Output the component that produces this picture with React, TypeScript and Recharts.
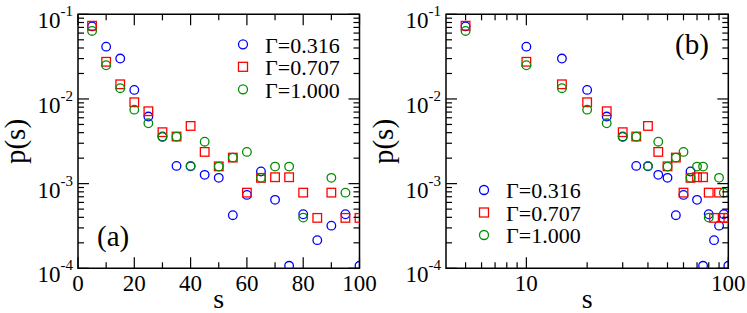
import React from "react";
import { ScatterChart, Scatter, XAxis, YAxis, ReferenceArea, Legend } from "recharts";

// ---- data ----
const sValues = [5, 10, 15, 20, 25, 30, 35, 40, 45, 50, 55, 60, 65, 70, 75, 80, 85, 90, 95, 100];
const gamma316: (number | null)[] = [0.072, 0.0415, 0.030, 0.0128, 0.0062, 0.0036, 0.00162, 0.0016, 0.00127, 0.00117, 0.000424, 0.000736, 0.00139, 0.000643, 0.000107, 0.000435, 0.000215, 0.000319, 0.000435, 0.000107];
const gamma707: (number | null)[] = [0.0733, 0.0275, 0.0149, 0.00914, 0.00716, 0.00405, 0.0036, 0.0048, 0.00237, 0.0016, 0.00203, 0.000783, 0.00117, 0.00119, 0.00119, 0.000783, 0.000394, 0.000783, 0.000394, 0.000394];
const gamma1000: (number | null)[] = [0.0636, 0.025, 0.0134, 0.00748, 0.00516, 0.00356, 0.00358, 0.00162, 0.00313, 0.00159, 0.00203, 0.00237, 0.00117, 0.00159, 0.00159, 0.000397, null, 0.00117, 0.000783, null];

const seriesNames = ["Γ=0.316", "Γ=0.707", "Γ=1.000"];
const seriesColors = ["#0000ff", "#ff0000", "#008f00"];
const seriesShapes = ["circle", "square", "circle"];
const seriesValues = [gamma316, gamma707, gamma1000];

const yDecades = [1e-4, 1e-3, 1e-2, 1e-1];
const yDecadeLabels = ["-4", "-3", "-2", "-1"];
const yMinorMult = [2, 3, 4, 5, 6, 7, 8, 9];

const xTicksA = [0, 10, 20, 30, 40, 50, 60, 70, 80, 90, 100];
const xLabelsA = [0, 20, 40, 60, 80, 100];
const xTicksB = [5, 6, 7, 8, 9, 10, 20, 30, 40, 50, 60, 70, 80, 90, 100];
const xLabelsB = [10, 100];

// ---- layout ----
const W = 747;
const H = 313;
const TOP = 14.3;
const BOTTOM = 268.3;
const A = { left: 78, right: 359.5 };
const B = { left: 446, right: 728.3 };
const FONT = "'Liberation Serif', 'Times New Roman', serif";
const MAJ = 11;
const MIN = 6;
const XAXIS_H = 30;
const YAXIS_W = 10;

const yTicks: number[] = [];
yDecades.forEach((d, i) => {
  yTicks.push(d);
  if (i < yDecades.length - 1) yMinorMult.forEach((m) => yTicks.push(m * d));
});

const buildData = (vals: (number | null)[]) =>
  sValues.map((s, i) => ({ s, p: vals[i] })).filter((d) => d.p != null);

const Marker = ({ cx, cy, shape, color, r }: any) =>
  shape === "square" ? (
    <rect x={cx - r} y={cy - r} width={2 * r} height={2 * r} fill="none" stroke={color} strokeWidth={1.3} />
  ) : (
    <circle cx={cx} cy={cy} r={r} fill="none" stroke={color} strokeWidth={1.3} />
  );

const makeXTick = (labels: number[], majors: number[]) => (props: any) => {
  const { x, payload } = props;
  const v = payload.value;
  const len = majors.includes(v) ? MAJ : MIN;
  return (
    <g>
      <line x1={x} x2={x} y1={BOTTOM} y2={BOTTOM - len} stroke="#000" strokeWidth={1.2} />
      <line x1={x} x2={x} y1={TOP} y2={TOP + len} stroke="#000" strokeWidth={1.2} />
      {labels.includes(v) && (
        <text x={x} y={291} textAnchor="middle" fontFamily={FONT} fontSize={23} fill="#000">
          {v}
        </text>
      )}
    </g>
  );
};

const makeYTick = (panel: { left: number; right: number }) => (props: any) => {
  const { y, payload } = props;
  const v = payload.value;
  const di = yDecades.indexOf(v);
  const len = di >= 0 ? MAJ : MIN;
  return (
    <g>
      <line x1={panel.left} x2={panel.left + len} y1={y} y2={y} stroke="#000" strokeWidth={1.2} />
      <line x1={panel.right} x2={panel.right - len} y1={y} y2={y} stroke="#000" strokeWidth={1.2} />
      {di >= 0 && (
        <text x={panel.left - 5} y={y + 14} textAnchor="end" fontFamily={FONT} fontSize={23} fill="#000">
          10
          <tspan dy={-12} fontSize={15}>
            {yDecadeLabels[di]}
          </tspan>
        </text>
      )}
    </g>
  );
};

const makeLegend = (ox: number, oy: number) => () => (
  <svg width={140} height={82} style={{ display: "block" }}>
    {seriesNames.map((name, i) => {
      const cy = oy + i * 22.5;
      return (
        <g key={name}>
          <Marker cx={ox} cy={cy} shape={seriesShapes[i]} color={seriesColors[i]} r={4.5} />
          <text x={ox + 22} y={cy + 8.3} fontFamily={FONT} fontSize={22} fill="#000">
            {name}
          </text>
        </g>
      );
    })}
  </svg>
);

const Panel = ({
  panel,
  xScale,
  xDomain,
  xTicks,
  xLabels,
  xMajors,
  tag,
  tagX,
  tagY,
  legendPos,
  legendOrigin,
}: any) => (
  <div style={{ position: "absolute", left: 0, top: 0 }}>
    <ScatterChart
      width={W}
      height={H}
      margin={{
        top: TOP,
        bottom: H - BOTTOM - XAXIS_H,
        left: panel.left - YAXIS_W,
        right: W - panel.right,
      }}
    >
      <XAxis
        dataKey="s"
        type="number"
        scale={xScale}
        domain={xDomain}
        allowDataOverflow
        ticks={xTicks}
        interval={0}
        height={XAXIS_H}
        axisLine={false}
        tickLine={false}
        tick={makeXTick(xLabels, xMajors)}
        label={{
          content: () => (
            <text x={(panel.left + panel.right) / 2} y={308} textAnchor="middle" fontFamily={FONT} fontSize={28} fill="#000">
              s
            </text>
          ),
        }}
      />
      <YAxis
        dataKey="p"
        type="number"
        scale="log"
        domain={[1e-4, 1e-1]}
        allowDataOverflow
        ticks={yTicks}
        interval={0}
        width={YAXIS_W}
        axisLine={false}
        tickLine={false}
        tick={makeYTick(panel)}
        label={{
          content: () => (
            <text
              x={panel.left - 53}
              y={141.5}
              transform={`rotate(-90 ${panel.left - 53} 141.5)`}
              textAnchor="middle"
              fontFamily={FONT}
              fontSize={29}
              fill="#000"
            >
              p(s)
            </text>
          ),
        }}
      />
      <ReferenceArea
        x1={xDomain[0]}
        x2={xDomain[1]}
        y1={1e-4}
        y2={1e-1}
        fill="none"
        fillOpacity={0}
        stroke="#000"
        strokeWidth={1.5}
        ifOverflow="visible"
        label={{
          content: () => (
            <text x={tagX} y={tagY} fontFamily={FONT} fontSize={29} fill="#000">
              {tag}
            </text>
          ),
        }}
      />
      {seriesValues.map((vals, i) => (
        <Scatter
          key={seriesNames[i]}
          name={seriesNames[i]}
          data={buildData(vals)}
          isAnimationActive={false}
          shape={(p: any) => <Marker cx={p.cx} cy={p.cy} shape={seriesShapes[i]} color={seriesColors[i]} r={4.3} />}
        />
      ))}
      <Legend
        layout="vertical"
        align="center"
        verticalAlign="middle"
        wrapperStyle={{ left: legendPos[0], top: legendPos[1], width: 140, height: 82 }}
        content={makeLegend(legendOrigin[0], legendOrigin[1])}
      />
    </ScatterChart>
  </div>
);

export default function App() {
  return (
    <div style={{ position: "absolute", left: 0, top: 0, width: W, height: H, background: "#fff" }}>
      <Panel
        panel={A}
        xScale="linear"
        xDomain={[0, 100]}
        xTicks={xTicksA}
        xLabels={xLabelsA}
        xMajors={xLabelsA}
        tag="(a)"
        tagX={97}
        tagY={246}
        legendPos={[228, 28]}
        legendOrigin={[15, 16.3]}
      />
      <Panel
        panel={B}
        xScale="log"
        xDomain={[4, 100]}
        xTicks={xTicksB}
        xLabels={xLabelsB}
        xMajors={xLabelsB}
        tag="(b)"
        tagX={675}
        tagY={54}
        legendPos={[470, 175]}
        legendOrigin={[14, 15]}
      />
    </div>
  );
}
